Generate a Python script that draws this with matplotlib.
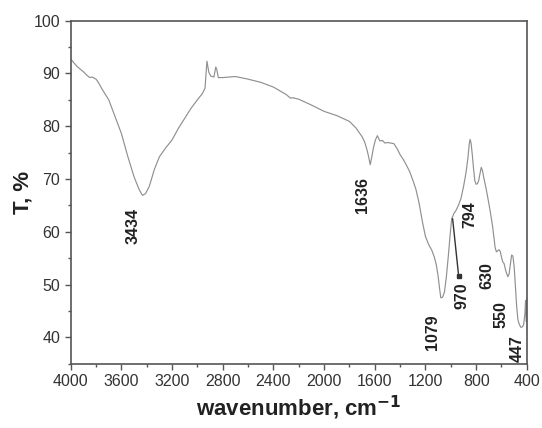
import matplotlib
matplotlib.use("Agg")
import matplotlib.pyplot as plt
from matplotlib.ticker import MultipleLocator

plt.rcParams['font.family'] = ['Liberation Sans', 'DejaVu Sans']

# FTIR spectrum
wavenumber = [4000, 3950, 3900, 3870, 3850, 3830, 3800, 3780, 3750, 3700, 3650, 3600,
              3550, 3500, 3460, 3434, 3410, 3380, 3340, 3300, 3250, 3200, 3150,
              3100, 3050, 3000, 2960, 2940, 2925, 2910, 2895, 2870, 2855, 2848,
              2835, 2800, 2700, 2600, 2500, 2400, 2300, 2265, 2250, 2200, 2100,
              2000, 1900, 1800, 1750, 1700, 1680, 1660, 1645, 1636, 1625, 1610,
              1595, 1580, 1560, 1540, 1520, 1500, 1475, 1450, 1425, 1400, 1375,
              1350, 1325, 1300, 1275, 1250, 1225, 1200, 1175, 1150, 1130, 1115,
              1100, 1090, 1079, 1065, 1050, 1035, 1020, 1005, 993, 985, 975,
              960, 940, 920, 900, 880, 865, 855, 848, 840, 830, 820, 810, 800,
              790, 780, 770, 760, 750, 740, 720, 700, 685, 670, 660, 650, 640,
              630, 620, 610, 600, 590, 580, 565, 550, 540, 530, 520, 510, 500,
              490, 480, 470, 460, 447, 435, 425, 415, 410, 405, 400]
transmittance = [92.7, 91.3, 90.3, 89.6, 89.2, 89.3, 88.9, 88.2, 86.9, 85.0, 81.8, 78.6,
                 74.3, 70.4, 68.0, 66.9, 67.2, 68.6, 71.8, 74.2, 75.9, 77.4, 79.6,
                 81.5, 83.4, 85.0, 86.2, 87.2, 92.3, 90.2, 89.5, 89.3, 91.2, 90.8,
                 89.2, 89.2, 89.4, 88.9, 88.3, 87.4, 86.0, 85.3, 85.4, 85.1, 84.0,
                 82.8, 82.0, 80.9, 79.7, 78.0, 77.0, 75.4, 73.8, 72.7, 74.0, 76.0,
                 77.4, 78.2, 77.2, 77.3, 76.8, 76.9, 76.8, 76.7, 75.8, 74.6, 73.7,
                 72.6, 71.4, 69.8, 68.0, 65.4, 62.0, 59.1, 57.6, 56.5, 55.2, 53.8,
                 51.6, 49.5, 47.5, 47.6, 48.6, 51.5, 55.3, 59.5, 62.5, 62.9, 63.5,
                 64.0, 65.0, 66.3, 68.5, 71.2, 74.0, 76.5, 77.5, 76.8, 74.5, 71.8,
                 69.6, 69.0, 69.1, 69.7, 71.0, 72.2, 71.6, 70.3, 68.0, 65.4, 63.3,
                 61.0, 59.0, 57.0, 56.2, 56.4, 56.6, 56.3, 55.2, 54.3, 54.0, 52.5,
                 51.5, 52.0, 53.8, 55.6, 55.4, 53.4, 49.5, 45.8, 43.3, 42.5, 41.9,
                 42.0, 42.4, 44.5, 47.0, 43.0, 47.4]

peak_labels = ['3434', '1636', '1079', '970', '794', '630', '550', '447']
peak_label_x = [3510, 1699, 1141, 915, 849, 719, 604, 474]
peak_label_y = [61.0, 67.0, 41.0, 47.9, 63.3, 51.7, 44.3, 37.8]

x_ticks = [4000, 3600, 3200, 2800, 2400, 2000, 1600, 1200, 800, 400]
y_ticks = [40, 50, 60, 70, 80, 90, 100]

fig = plt.figure(figsize=(5.42, 4.28), dpi=100)
ax = fig.add_axes([0.1305, 0.150, 0.8415, 0.802])

ax.plot(wavenumber, transmittance, color='#909090', lw=0.85)

ax.set_xlim(4000, 400)
ax.set_ylim(35, 100)
ax.set_xticks(x_ticks)
ax.set_yticks(y_ticks)
ax.xaxis.set_minor_locator(MultipleLocator(200))
ax.yaxis.set_minor_locator(MultipleLocator(5))
ax.tick_params(which='major', direction='out', length=4, width=1, colors='#555555',
               labelsize=11.5, labelcolor='#333333')
ax.tick_params(which='minor', direction='out', length=2, width=1, colors='#555555')
for s in ax.spines.values():
    s.set_color('#555555')
    s.set_linewidth(1.2)

for lab, lx, ly in zip(peak_labels, peak_label_x, peak_label_y):
    ax.text(lx, ly, lab, rotation=90, ha='center', va='center',
            fontsize=11.5, fontweight='bold', color='#222222')

# arrow for the 970 band
ax.annotate('', xy=(938, 51.6), xytext=(988, 63.0),
            arrowprops=dict(arrowstyle='-', color='#333333', lw=1.0))
ax.plot([938], [51.6], marker='s', ms=2.5, color='#333333')

ax.set_ylabel('T, %', fontsize=16, fontweight='bold', color='#222222', labelpad=0)
ax.set_xlabel('wavenumber, cm$^{\\mathbf{-1}}$', fontsize=16, fontweight='bold',
              color='#222222', labelpad=3)

fig.savefig('out.png', dpi=100)
